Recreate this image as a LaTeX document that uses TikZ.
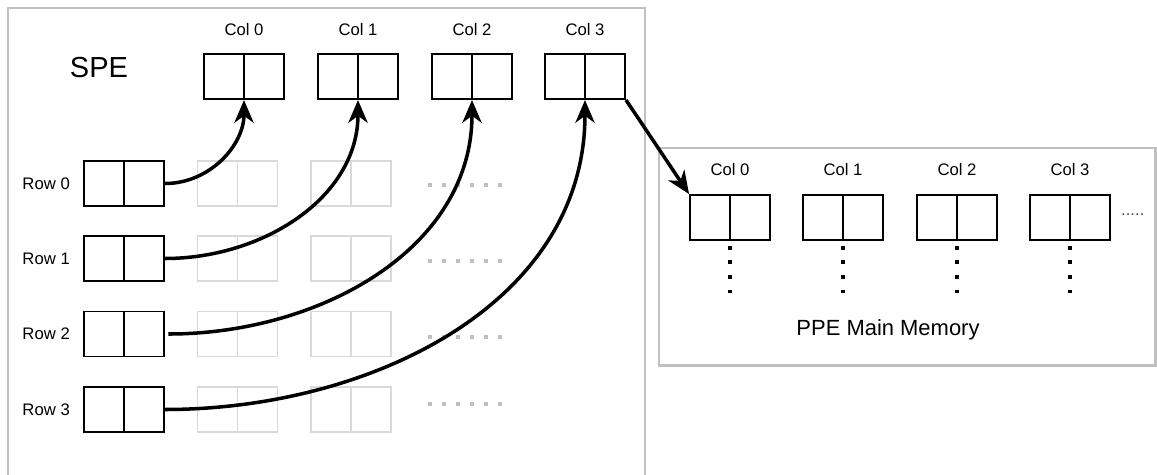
\documentclass[tikz,border=0pt]{standalone}
\usepackage{fontspec}
\setmainfont{Liberation Sans}
\usetikzlibrary{arrows.meta, positioning}

\definecolor{panelgray}{HTML}{C0C0C0}
\definecolor{ghostgray}{HTML}{D9D9D9}

\begin{document}
\begin{tikzpicture}[x=0.02cm, y=-0.02cm, >={Stealth[length=13pt, width=11pt, inset=4pt]},
  twocell/.style={draw=#1, line width=1.1pt, minimum width=1.6cm, minimum height=0.9cm, inner sep=0pt,
    path picture={\draw[#1, line width=1.1pt] (path picture bounding box.north) -- (path picture bounding box.south);}},
  pair/.style={twocell=black},
  ghost/.style={twocell=ghostgray},
  panel/.style={draw=panelgray, line width=1.7pt},
  lbl/.style={font=\fontsize{9.5}{11}\selectfont},
  link/.style={->, line width=2pt},
  gaps/.style={draw=panelgray, line width=2pt, dash pattern=on 2pt off 6pt},
  vdots/.style={draw, line width=2.1pt, dash pattern=on 2.1pt off 6.2pt}]
  \useasboundingbox (0,0) rectangle (1157,474);
  \clip (0,0) rectangle (1157,474);

  % SPE local store
  \draw[panel] (8,8) rectangle (645,500);
  \node[font=\fontsize{16.5}{20}\selectfont] (spe) at (99,68) {SPE};

  % Column buffers
  \node[pair] (c0) at (244,76.5) {};
  \node[pair] (c1) at (358,76.5) {};
  \node[pair] (c2) at (472,76.5) {};
  \node[pair] (c3) at (585,76.5) {};
  \node[lbl, above=6.5pt of c0] (c0t) {Col 0};
  \node[lbl, above=6.5pt of c1] (c1t) {Col 1};
  \node[lbl, above=6.5pt of c2] (c2t) {Col 2};
  \node[lbl, above=6.5pt of c3] (c3t) {Col 3};

  % Row buffers
  \node[pair] (r0) at (124,183.5) {};
  \node[pair] (r1) at (124,258.5) {};
  \node[pair] (r2) at (124,334) {};
  \node[pair] (r3) at (124,409.5) {};
  \node[lbl, left=4pt of r0] (r0t) {Row 0};
  \node[lbl, left=4pt of r1] (r1t) {Row 1};
  \node[lbl, left=4pt of r2] (r2t) {Row 2};
  \node[lbl, left=4pt of r3] (r3t) {Row 3};

  % Rest of each row (unused blocks)
  \foreach \y/\d [count=\i from 0] in {183.5/185, 258.5/261, 334/337, 409.5/404} {
    \node[ghost] (g\i a) at (237.5,\y) {};
    \node[ghost] (g\i b) at (351,\y) {};
    \draw[gaps] (428,\d) -- (505,\d);
  }

  % Row -> column transfers
  \draw[link] (r0.east) to[out=0, in=-90] (c0.south);
  \draw[link] (r1.east) to[out=0, in=-90] (c1.south);
  \draw[link] ([xshift=2pt]r2.east) to[out=0, in=-90] (c2.south);
  \draw[link] (r3.east) to[out=0, in=-90] (c3.south);

  % PPE main memory
  \draw[panel] (659,148) rectangle (1155,365);
  \node[pair] (m0) at (730,217.5) {};
  \node[pair] (m1) at (843,217.5) {};
  \node[pair] (m2) at (957,217.5) {};
  \node[pair] (m3) at (1070,217.5) {};
  \node[lbl, above=7pt of m0] (m0t) {Col 0};
  \node[lbl, above=7pt of m1] (m1t) {Col 1};
  \node[lbl, above=7pt of m2] (m2t) {Col 2};
  \node[lbl, above=7pt of m3] (m3t) {Col 3};
  \node[lbl, black!70, anchor=west] (more) at (1115,215) {.....};
  \foreach \m in {m0, m1, m2, m3}
    \draw[vdots] ([yshift=-2.8pt]\m.south) -- ([yshift=-29.8pt]\m.south);
  \node[font=\fontsize{12.5}{15}\selectfont] (ppe) at (888,330) {PPE Main Memory};

  % Write back
  \draw[link] (c3.south east) -- (m0.north west);
\end{tikzpicture}
\end{document}
